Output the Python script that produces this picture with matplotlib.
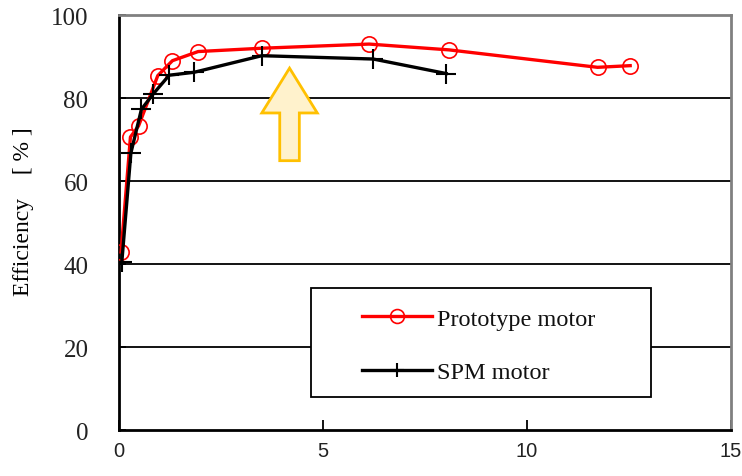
import matplotlib
matplotlib.use("Agg")
import matplotlib.pyplot as plt
from matplotlib.patches import Polygon, Rectangle

# Efficiency curves: output (x) vs efficiency in percent (y)
proto_x = [0.05, 0.28, 0.48, 0.95, 1.31, 1.94, 3.50, 6.13, 8.09, 11.73, 12.53]
proto_y = [42.9, 70.6, 73.3, 85.4, 89.0, 91.2, 92.0, 93.0, 91.6, 87.4, 87.8]

spm_x = [0.07, 0.29, 0.55, 0.84, 1.23, 1.84, 3.50, 6.23, 8.02]
spm_y = [40.6, 66.7, 77.3, 81.0, 85.5, 86.2, 90.2, 89.4, 85.9]

x_ticks = [0, 5, 10, 15]
y_ticks = [0, 20, 40, 60, 80, 100]

serif = ["Liberation Serif", "DejaVu Serif"]
sans = ["Liberation Sans", "DejaVu Sans"]

fig = plt.figure(figsize=(7.42, 4.77), dpi=100)
ax = fig.add_axes([0.1604, 0.0964, 0.8247, 0.870])

ax.set_xlim(0, 15)
ax.set_ylim(0, 100)

# horizontal grid lines
for yv in y_ticks[1:-1]:
    ax.axhline(yv, color="black", lw=1.3, zorder=1)

ax.plot(proto_x, proto_y, color="#ff0000", lw=2.4, marker="o", ms=11,
        mfc="none", mec="#ff0000", mew=1.2, label="Prototype motor", zorder=3)
ax.plot(spm_x, spm_y, color="black", lw=2.4, marker="+", ms=14,
        mew=1.5, label="SPM motor", zorder=4)

# hollow up arrow
tip_x, tip_y = 4.18, 87.2
head_hw, head_base = 0.68, 76.4
shaft_hw, shaft_bot = 0.24, 64.9
arrow = Polygon([
    (tip_x, tip_y),
    (tip_x + head_hw, head_base),
    (tip_x + shaft_hw, head_base),
    (tip_x + shaft_hw, shaft_bot),
    (tip_x - shaft_hw, shaft_bot),
    (tip_x - shaft_hw, head_base),
    (tip_x - head_hw, head_base),
], closed=True, facecolor="#fff2cc", edgecolor="#ffc000", lw=2.0, zorder=5)
ax.add_patch(arrow)

ax.set_xticks(x_ticks)
ax.set_yticks(y_ticks)
ax.set_xticklabels([str(v) for v in x_ticks], family=sans, fontsize=14.5, color="#222222")
ax.set_yticklabels([str(v) for v in y_ticks], family=serif, fontsize=18, color="#222222")
ax.tick_params(axis="x", direction="in", length=7, width=1.3, pad=8)
ax.tick_params(axis="y", direction="in", length=5, width=1.3, pad=22)

for side in ("left", "bottom"):
    ax.spines[side].set_color("black")
    ax.spines[side].set_linewidth(2.0)
for side in ("top", "right"):
    ax.spines[side].set_color("#808080")
    ax.spines[side].set_linewidth(2.0)

fig.text(0.032, 1 - 212 / 477, "Efficiency\u3000[ % ]", rotation=90,
         ha="center", va="center", family=serif + ["Noto Sans CJK JP"], fontsize=17)

# legend frame (white box that hides the grid line behind it)
frame = Rectangle((0.313, 0.0795), 0.556, 0.2625, transform=ax.transAxes,
                  facecolor="white", edgecolor="black", lw=1.3, zorder=6)
ax.add_patch(frame)

leg = ax.legend(loc="upper left", bbox_to_anchor=(0.3964, 0.295),
                frameon=False, prop={"family": serif, "size": 17.5},
                handlelength=2.9, handletextpad=0.2, labelspacing=1.3,
                borderpad=0, borderaxespad=0)
leg.set_zorder(7)
for h in leg.legend_handles:
    h.set_markersize(10)
for t in leg.get_texts():
    t.set_color("#111111")

fig.savefig("out.png", dpi=100)
